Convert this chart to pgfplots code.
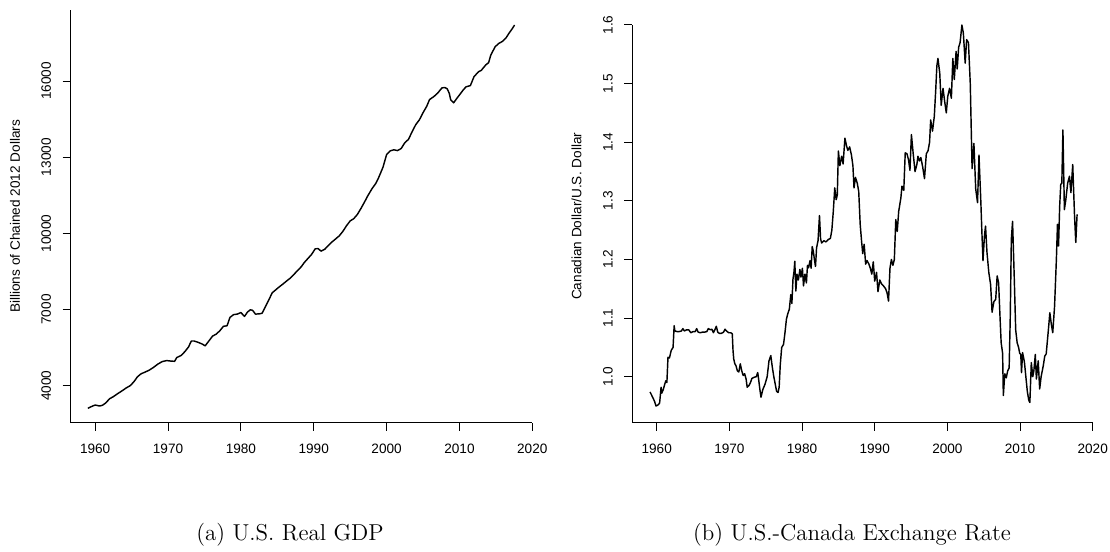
\documentclass[border=0pt]{standalone}
\usepackage{fontspec}
\newfontfamily\arial{Liberation Sans}
\usepackage{pgfplots}
\pgfplotsset{compat=1.18}

\pgfplotsset{
  rplot/.style={
    scale only axis, width=230.5pt, height=206.35pt,
    axis x line*=bottom, axis y line*=left,
    axis line style={-, line width=0.5pt},
    tick align=outside, major tick length=4pt,
    every tick/.style={black, line width=0.5pt},
    scaled ticks=false,
    xmin=1956.64, xmax=2020,
    xtick={1960,1970,1980,1990,2000,2010,2020},
    xticklabels={1960,1970,1980,1990,2000,2010,2020},
    tick label style={font=\arial\fontsize{6.8}{8}\selectfont},
    xticklabel style={anchor=north, inner sep=0pt},
    yticklabel style={rotate=90, anchor=base, inner sep=0pt},
    xticklabel shift=6.4pt,
    yticklabel shift=5.85pt,
    ylabel style={font=\arial\fontsize{6.8}{8}\selectfont, anchor=center, inner sep=0pt},
  },
  rline/.style={black, line width=0.72pt, line join=round, no marks},
}

\begin{document}
\begin{tikzpicture}

% (a) real GDP
\begin{axis}[rplot, at={(35.35pt,-211.35pt)}, anchor=south west,
    width=230.8pt,
    ymin=2543, ymax=18796,
    ytick={4000,7000,10000,13000,16000},
    yticklabels={4000,7000,10000,13000,16000},
    ylabel={Billions of Chained 2012 Dollars},
    ylabel style={at={(axis description cs:-0.1207,0.5)}}]
\addplot[rline] coordinates {
(1959.0,3110) (1959.5,3180) (1960.0,3240) (1960.6,3200) (1961.0,3230) (1961.4,3310)
(1962.0,3490) (1962.5,3570) (1963.1,3690) (1963.7,3800) (1964.3,3920) (1964.8,4000)
(1965.3,4150) (1965.8,4350) (1966.3,4470) (1966.8,4530) (1967.4,4610) (1968.0,4720)
(1968.6,4850) (1969.2,4950) (1969.8,4990) (1970.4,4970) (1970.9,4960) (1971.2,5110)
(1971.8,5190) (1972.3,5340) (1972.8,5520) (1973.2,5760) (1973.6,5760) (1974.2,5700)
(1974.7,5640) (1975.1,5570) (1975.6,5760) (1976.1,5950) (1976.6,6030) (1977.1,6160)
(1977.6,6340) (1978.1,6360) (1978.5,6690) (1979.0,6800) (1979.5,6820) (1980.0,6880)
(1980.5,6730) (1980.9,6900) (1981.3,6990) (1981.6,6970) (1982.0,6820) (1982.5,6830)
(1982.9,6850) (1983.4,7130) (1983.9,7420) (1984.3,7660) (1984.8,7780) (1985.3,7900)
(1985.8,8010) (1986.3,8130) (1986.8,8240) (1987.3,8390) (1987.8,8540) (1988.3,8690)
(1988.7,8850) (1989.2,9010) (1989.7,9170) (1990.2,9390) (1990.6,9400) (1991.0,9300)
(1991.5,9370) (1992.0,9520) (1992.5,9660) (1993.0,9780) (1993.5,9900) (1994.0,10080)
(1994.5,10300) (1995.0,10490) (1995.5,10580) (1996.0,10750) (1996.5,10990) (1997.0,11250)
(1997.4,11470) (1998.0,11760) (1998.5,11960) (1998.9,12190) (1999.5,12600) (2000.0,13100)
(2000.5,13250) (2001.0,13290) (2001.5,13260) (2002.0,13340) (2002.5,13570) (2003.0,13700)
(2003.5,14000) (2004.0,14280) (2004.5,14470) (2005.0,14750) (2005.5,15000) (2005.9,15270)
(2006.5,15390) (2007.0,15520) (2007.6,15730) (2008.0,15740) (2008.3,15700) (2008.6,15520)
(2008.8,15260) (2009.2,15140) (2009.6,15300) (2010.0,15450) (2010.5,15640) (2010.9,15770)
(2011.5,15820) (2012.0,16170) (2012.6,16360) (2013.0,16420) (2013.6,16630) (2014.0,16720)
(2014.3,17020) (2014.9,17350) (2015.4,17480) (2015.9,17560) (2016.4,17700) (2016.8,17880)
(2017.2,18040) (2017.57,18205)
};
\end{axis}

% (b) exchange rate
\begin{axis}[rplot, at={(316.15pt,-211.35pt)}, anchor=south west,
    width=230.2pt,
    ymin=0.9215, ymax=1.6256,
    y axis line style={shorten >=7.5pt},
    ytick={1.0,1.1,1.2,1.3,1.4,1.5,1.6},
    yticklabels={1.0,1.1,1.2,1.3,1.4,1.5,1.6},
    ylabel={Canadian Dollar/U.S. Dollar},
    ylabel style={at={(axis description cs:-0.121,0.5)}}]
\addplot[rline] coordinates {
(1959.08,0.974) (1959.4,0.966) (1959.7,0.958) (1959.9,0.950) (1960.2,0.952) (1960.4,0.955)
(1960.6,0.982) (1960.7,0.972) (1960.9,0.978) (1961.1,0.987) (1961.25,0.993) (1961.4,0.990)
(1961.55,1.033) (1961.75,1.032) (1962.0,1.045) (1962.25,1.050) (1962.4,1.087) (1962.5,1.078)
(1962.8,1.077) (1963.1,1.077) (1963.4,1.078) (1963.6,1.082) (1963.8,1.078) (1964.1,1.080)
(1964.4,1.080) (1964.7,1.075) (1965.0,1.077) (1965.3,1.077) (1965.5,1.082) (1965.7,1.076)
(1966.0,1.075) (1966.3,1.076) (1966.6,1.076) (1966.9,1.077) (1967.1,1.082) (1967.4,1.080)
(1967.6,1.081) (1967.8,1.075) (1968.0,1.080) (1968.2,1.086) (1968.4,1.076) (1968.6,1.074)
(1968.9,1.074) (1969.2,1.076) (1969.4,1.081) (1969.6,1.078) (1969.9,1.075) (1970.2,1.075)
(1970.4,1.073) (1970.5,1.045) (1970.6,1.030) (1970.75,1.022) (1970.9,1.019) (1971.1,1.010)
(1971.3,1.008) (1971.5,1.022) (1971.7,1.010) (1971.9,1.002) (1972.1,1.005) (1972.3,0.996)
(1972.45,0.982) (1972.7,0.985) (1972.9,0.990) (1973.1,0.997) (1973.4,0.999) (1973.7,1.000)
(1973.9,1.007) (1974.0,0.998) (1974.2,0.978) (1974.35,0.965) (1974.6,0.978) (1974.9,0.987)
(1975.2,1.000) (1975.45,1.027) (1975.7,1.036) (1975.9,1.017) (1976.1,1.001) (1976.3,0.988)
(1976.5,0.975) (1976.7,0.973) (1976.85,0.982) (1977.0,1.020) (1977.2,1.050) (1977.45,1.055)
(1977.65,1.075) (1977.85,1.098) (1978.05,1.108) (1978.25,1.115) (1978.45,1.140) (1978.6,1.125)
(1978.75,1.166) (1978.9,1.180) (1979.0,1.197) (1979.15,1.146) (1979.3,1.175) (1979.5,1.165)
(1979.7,1.183) (1979.85,1.170) (1980.05,1.185) (1980.2,1.155) (1980.4,1.175) (1980.6,1.160)
(1980.75,1.190) (1980.9,1.186) (1981.1,1.198) (1981.25,1.185) (1981.4,1.222) (1981.55,1.214)
(1981.7,1.200) (1981.85,1.188) (1982.0,1.220) (1982.2,1.232) (1982.4,1.275) (1982.55,1.235)
(1982.7,1.228) (1983.0,1.232) (1983.3,1.230) (1983.6,1.234) (1983.9,1.236) (1984.1,1.250)
(1984.3,1.282) (1984.5,1.322) (1984.7,1.302) (1984.85,1.310) (1985.0,1.385) (1985.2,1.360)
(1985.45,1.376) (1985.65,1.363) (1985.9,1.407) (1986.1,1.395) (1986.3,1.386) (1986.55,1.392)
(1986.8,1.378) (1987.0,1.360) (1987.15,1.322) (1987.35,1.340) (1987.6,1.330) (1987.8,1.316)
(1988.0,1.260) (1988.2,1.230) (1988.35,1.210) (1988.55,1.226) (1988.75,1.192) (1988.95,1.198)
(1989.2,1.192) (1989.4,1.185) (1989.6,1.175) (1989.8,1.196) (1990.0,1.163) (1990.25,1.178)
(1990.45,1.145) (1990.7,1.165) (1990.95,1.158) (1991.2,1.155) (1991.5,1.150) (1991.7,1.143)
(1991.9,1.129) (1992.1,1.185) (1992.3,1.200) (1992.5,1.190) (1992.7,1.200) (1992.9,1.268)
(1993.1,1.248) (1993.3,1.282) (1993.6,1.305) (1993.75,1.325) (1994.0,1.318) (1994.2,1.382)
(1994.45,1.380) (1994.65,1.370) (1994.85,1.352) (1995.05,1.413) (1995.3,1.380) (1995.55,1.350)
(1995.8,1.362) (1995.95,1.376) (1996.15,1.368) (1996.35,1.374) (1996.6,1.358) (1996.85,1.338)
(1997.1,1.380) (1997.35,1.386) (1997.55,1.400) (1997.7,1.438) (1997.95,1.419) (1998.2,1.444)
(1998.4,1.490) (1998.55,1.530) (1998.7,1.543) (1998.95,1.518) (1999.15,1.463) (1999.4,1.492)
(1999.6,1.472) (1999.85,1.450) (2000.05,1.478) (2000.3,1.492) (2000.55,1.475) (2000.75,1.543)
(2000.95,1.507) (2001.2,1.555) (2001.35,1.525) (2001.55,1.562) (2001.75,1.570) (2002.0,1.600)
(2002.2,1.586) (2002.45,1.535) (2002.65,1.575) (2002.9,1.570) (2003.15,1.500) (2003.4,1.355)
(2003.65,1.398) (2003.9,1.320) (2004.15,1.297) (2004.35,1.378) (2004.6,1.300) (2004.75,1.246)
(2004.9,1.198) (2005.1,1.240) (2005.25,1.257) (2005.45,1.212) (2005.7,1.178) (2005.95,1.157)
(2006.15,1.110) (2006.4,1.128) (2006.65,1.132) (2006.85,1.172) (2007.05,1.160) (2007.25,1.100)
(2007.4,1.058) (2007.6,1.040) (2007.7,0.968) (2007.9,1.005) (2008.1,0.998) (2008.3,1.010)
(2008.5,1.015) (2008.65,1.100) (2008.8,1.234) (2008.97,1.265) (2009.2,1.170) (2009.4,1.080)
(2009.6,1.058) (2009.8,1.050) (2009.95,1.040) (2010.1,1.038) (2010.2,1.007) (2010.35,1.041)
(2010.6,1.025) (2010.8,1.000) (2011.0,0.975) (2011.2,0.960) (2011.35,0.956) (2011.55,1.024)
(2011.75,1.000) (2011.9,1.010) (2012.1,1.038) (2012.25,0.996) (2012.5,1.027) (2012.7,0.979)
(2012.9,1.000) (2013.2,1.019) (2013.4,1.035) (2013.6,1.039) (2013.9,1.080) (2014.1,1.109)
(2014.3,1.090) (2014.5,1.075) (2014.75,1.120) (2015.0,1.200) (2015.15,1.260) (2015.3,1.223)
(2015.45,1.290) (2015.6,1.328) (2015.75,1.330) (2015.9,1.421) (2016.1,1.285) (2016.3,1.302)
(2016.55,1.330) (2016.8,1.342) (2017.0,1.314) (2017.25,1.362) (2017.5,1.274) (2017.67,1.229)
(2017.85,1.277)
};
\end{axis}

\node[font=\fontsize{11.5}{13}\selectfont, anchor=center] at (145pt,-267.5pt) {(a) U.S. Real GDP};
\node[font=\fontsize{11.5}{13}\selectfont, anchor=center] at (426pt,-267.5pt) {(b) U.S.-Canada Exchange Rate};

\pgfresetboundingbox
\useasboundingbox (0pt,0pt) rectangle (555pt,-276pt);
\end{tikzpicture}
\end{document}
